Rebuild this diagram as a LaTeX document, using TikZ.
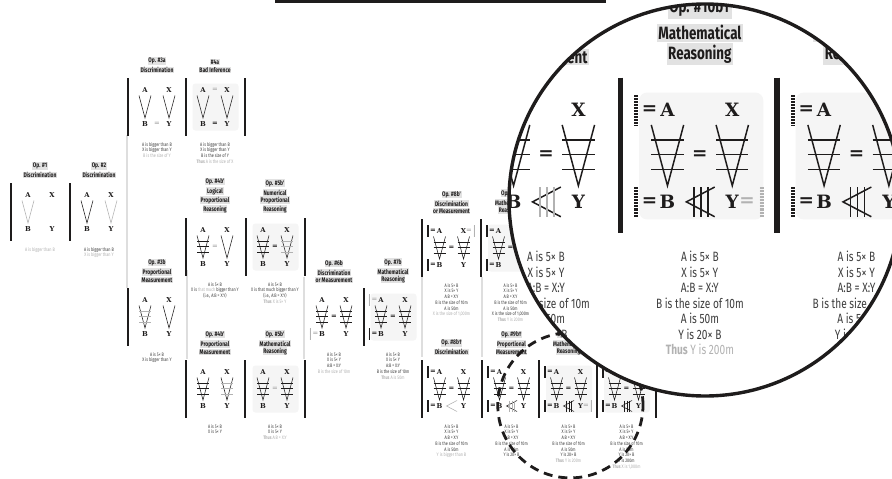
\documentclass[tikz,border=0pt]{standalone}
\usepackage{fontspec}
\usepackage{xcolor}
\usepackage{tikz}
\usetikzlibrary{calc}
\newfontfamily\capfont[FakeStretch=0.75]{Fira Sans}
\newfontfamily\letfont{DejaVu Serif}
\definecolor{mydark}{RGB}{30,28,28}
\definecolor{mytext}{RGB}{62,62,62}
\definecolor{mylight}{RGB}{178,178,178}
\definecolor{titlebg}{RGB}{226,226,226}
\definecolor{panelbg}{RGB}{245,245,245}
\definecolor{sepgray}{RGB}{222,222,222}
\setlength{\fboxsep}{0.6pt}
\newcommand{\lwf}{1}
\newcommand{\hl}[1]{\colorbox{titlebg}{#1}}
\tikzset{
  letter/.style={font=\letfont\bfseries\fontsize{6.8}{6.8}\selectfont, text=mydark, inner sep=0pt},
  optitle/.style={font=\capfont\bfseries\fontsize{6.6}{7.2}\selectfont, text=mydark,
    align=center, anchor=south, inner sep=0pt},
  caption/.style={font=\capfont\fontsize{5}{5.75}\selectfont, text=mytext,
    align=center, anchor=north, inner sep=0pt},
  forkline/.style={line width=\lwf*0.55pt, mydark},
  panelbar/.style={line width=\lwf*2pt, mydark},
  sepline/.style={line width=1.4pt, sepgray},
  panelbox/.style={fill=panelbg, rounded corners=\lwf*3pt},
  toprule/.style={line width=3pt, mydark},
  bigring/.style={line width=3.4pt, mydark},
  dashring/.style={line width=2.8pt, mydark, dash pattern=on 9pt off 6pt}
}
% glyph pieces, local panel units (A at origin)
\newcommand{\abxy}[1]{%
  \node[letter] (a#1) at (0,0) {A};
  \node[letter] (x#1) at (24,0) {X};
  \node[letter] (b#1) at (0,34) {B};
  \node[letter] (y#1) at (24,34) {Y};}
\newcommand{\fork}[2][mydark]{\draw[forkline,#1] (#2-6,5.5) -- (#2,28) -- (#2+6,5.5);}
\newcommand{\rungs}[2][mydark]{\foreach \ry in {11,16.5,22} \draw[forkline,#1] (#2-6,\ry) -- (#2+6,\ry);}
\newcommand{\sidefork}[2][mydark]{\draw[forkline,#1] (#2+10.5,28.5) -- (#2,34) -- (#2+10.5,39.5);}
\newcommand{\siderungs}[2][mydark]{\foreach \rx in {2.8,5.4,8} \draw[forkline,#1] (#2+\rx,28.5) -- (#2+\rx,39.5);}
\newcommand{\hatch}[3][mydark]{\foreach \k in {0,...,20}
  \draw[#1,line width=\lwf*0.24pt] (#2-0.75,#3-5.5+\k*0.55) -- (#2+0.75,#3-5.5+\k*0.55);}
\newcommand{\eqsign}[4][mydark]{\node[letter,text=#1] (#2) at (#3,#4) {=};}
% lower row, drawn twice (plain and magnified)
\newcommand{\bottomrow}{%
  % Op. #8b dagger
  \begin{scope}[shift={(439.5,372)}]
    \draw[panelbar] (-17.5,-12) -- (-17.5,45.5);
    \hatch{-11.5}{0} \hatch{-11.5}{34}
    \eqsign{ea8d}{-6.6}{0} \eqsign{eb8d}{-6.6}{34}
    \abxy{8d}
    \fork{0} \rungs{0} \fork{24} \rungs{24}
    \eqsign{em8d}{12}{16.5}
    \sidefork[mylight]{7}
    \node[optitle] (t8d) at (12,-16.5) {\hl{Op. \#8b†}\\[1pt]\hl{Discrimination}};
    \node[caption] (c8d) at (12,52) {A is 5× B\\X is 5× Y\\A:B = X:Y\\B is the size of 10m\\A is 50m\\{\color{mylight}Y is bigger than B}};
  \end{scope}
  % Op. #9b dagger
  \begin{scope}[shift={(499.5,372)}]
    \draw[panelbar] (-17.5,-12) -- (-17.5,45.5);
    \hatch{-11.5}{0} \hatch{-11.5}{34}
    \eqsign{ea9d}{-6.6}{0} \eqsign{eb9d}{-6.6}{34}
    \abxy{9d}
    \fork{0} \rungs{0} \fork{24} \rungs{24}
    \eqsign{em9d}{12}{16.5}
    \sidefork{7} \siderungs[mylight]{7}
    \node[optitle] (t9d) at (12,-16.5) {\hl{Op. \#9b†}\\[1pt]\hl{Proportional}\\\hl{Measurement}};
    \node[caption] (c9d) at (12,52) {A is 5× B\\X is 5× Y\\A:B = X:Y\\B is the size of 10m\\A is 50m\\Y is 20× B};
  \end{scope}
  % Op. #10b dagger
  \begin{scope}[shift={(556.5,372)}]
    \fill[panelbox] (-10.5,-6.5) rectangle (35.5,40.5);
    \draw[panelbar] (-17.5,-12) -- (-17.5,45.5);
    \hatch{-11.5}{0} \hatch{-11.5}{34} \hatch[mylight]{35}{34}
    \eqsign{ea10d}{-6.6}{0} \eqsign{eb10d}{-6.6}{34} \eqsign[mylight]{ey10d}{29.5}{34}
    \abxy{10d}
    \fork{0} \rungs{0} \fork{24} \rungs{24}
    \eqsign{em10d}{12}{16.5}
    \sidefork{7} \siderungs{7}
    \node[optitle] (t10d) at (12,-16.5) {\hl{Op. \#10b†}\\[1pt]\hl{Mathematical}\\\hl{Reasoning}};
    \node[caption] (c10d) at (12,52) {A is 5× B\\X is 5× Y\\A:B = X:Y\\B is the size of 10m\\A is 50m\\Y is 20× B\\{\color{mylight}\textbf{Thus} Y is 200m}};
  \end{scope}
  % Op. #11b dagger
  \begin{scope}[shift={(614.5,372)}]
    \fill[panelbox] (-10.5,-6.5) rectangle (35.5,40.5);
    \draw[panelbar] (-17.5,-12) -- (-17.5,45.5);
    \draw[panelbar] (41.5,-12) -- (41.5,45.5);
    \hatch{-11.5}{0} \hatch{-11.5}{34} \hatch[mylight]{35}{0}
    \eqsign{ea11d}{-6.6}{0} \eqsign{eb11d}{-6.6}{34} \eqsign[mylight]{ex11d}{29.5}{0}
    \abxy{11d}
    \fork{0} \rungs{0} \fork{24} \rungs{24}
    \eqsign{em11d}{12}{16.5}
    \sidefork{7} \siderungs{7}
    \node[optitle] (t11d) at (12,-16.5) {\hl{Op. \#11b†}\\[1pt]\hl{Mathematical}\\\hl{Reasoning}};
    \node[caption] (c11d) at (12,52) {A is 5× B\\X is 5× Y\\A:B = X:Y\\B is the size of 10m\\A is 50m\\Y is 20× B\\Y is 200m\\{\color{mylight}\textbf{Thus} X is 1,000m}};
  \end{scope}}

\begin{document}
\begin{tikzpicture}[x=1pt,y=-1pt]
  \useasboundingbox (0,0) rectangle (892,479);
  \fill[white] (0,0) rectangle (892,479);
  % Top rule
  \draw[toprule] (275,1.6) -- (606,1.6);
  % Separators
  \draw[sepline] (127,135) -- (127,288);
  \draw[sepline] (187,270) -- (187,359);
  \draw[sepline] (304,277) -- (304,359);
  \draw[sepline] (422,277) -- (422,357);
  \draw[sepline] (482,277) -- (482,357);
  % Op. #1
  \begin{scope}[shift={(28,195)}]
    \draw[panelbar] (-17.5,-12) -- (-17.5,45.5);
    \fork[mylight]{0}
    \abxy{1}
    \node[optitle] (t1) at (12,-16.5) {\hl{Op. \#1}\\[1pt]\hl{Discrimination}};
    \node[caption] (c1) at (12,52) {{\color{mylight}A is bigger than B}};
  \end{scope}
  % Op. #2
  \begin{scope}[shift={(87,195)}]
    \draw[panelbar] (-17.5,-12) -- (-17.5,45.5);
    \fork{0} \fork[mylight]{24}
    \abxy{2}
    \node[optitle] (t2) at (12,-16.5) {\hl{Op. \#2}\\[1pt]\hl{Discrimination}};
    \node[caption] (c2) at (12,52) {A is bigger than B\\{\color{mylight}X is bigger than Y}};
  \end{scope}
  % Op. #3a
  \begin{scope}[shift={(145,90)}]
    \draw[panelbar] (-17.5,-12) -- (-17.5,45.5);
    \fork{0} \fork{24}
    \abxy{3a}
    \eqsign[mylight]{eb3a}{12}{34}
    \node[optitle] (t3a) at (12,-16.5) {\hl{Op. \#3a}\\[1pt]\hl{Discrimination}};
    \node[caption] (c3a) at (12,52) {A is bigger than B\\X is bigger than Y\\{\color{mylight}B is the size of Y}};
  \end{scope}
  % #4a
  \begin{scope}[shift={(203,90)}]
    \fill[panelbox] (-10.5,-6.5) rectangle (35.5,40.5);
    \draw[panelbar] (-17.5,-12) -- (-17.5,45.5);
    \draw[panelbar] (41.5,-12) -- (41.5,45.5);
    \fork{0} \fork{24}
    \abxy{4a}
    \eqsign[mylight]{ea4a}{12}{0} \eqsign{eb4a}{12}{34}
    \node[optitle] (t4a) at (12,-16.5) {\hl{\#4a}\\[1pt]\hl{Bad Inference}};
    \node[caption] (c4a) at (12,52) {A is bigger than B\\X is bigger than Y\\B is the size of Y\\{\color{mylight}\textbf{Thus} A is the size of X}};
  \end{scope}
  % Op. #4b upper
  \begin{scope}[shift={(203,230)}]
    \draw[panelbar] (-17.5,-12) -- (-17.5,45.5);
    \fork{0} \rungs{0} \fork{24}
    \abxy{4bu}
    \eqsign[mylight]{em4bu}{12}{16.5}
    \node[optitle] (t4bu) at (12,-16.5) {\hl{Op. \#4b'}\\[1pt]\hl{Logical}\\\hl{Proportional}\\\hl{Reasoning}};
    \node[caption] (c4bu) at (12,52) {A is 5× B\\X is {\color{mylight}that much} bigger than Y\\(i.e., A:B = X:Y)};
  \end{scope}
  % Op. #5b upper
  \begin{scope}[shift={(263,230)}]
    \fill[panelbox] (-10.5,-6.5) rectangle (35.5,40.5);
    \draw[panelbar] (-17.5,-12) -- (-17.5,45.5);
    \draw[panelbar] (41.5,-12) -- (41.5,45.5);
    \fork{0} \rungs{0} \fork{24} \rungs[mylight]{24}
    \abxy{5bu}
    \eqsign{em5bu}{12}{16.5}
    \node[optitle] (t5bu) at (12,-16.5) {\hl{Op. \#5b'}\\[1pt]\hl{Numerical}\\\hl{Proportional}\\\hl{Reasoning}};
    \node[caption] (c5bu) at (12,52) {A is 5× B\\X is that much bigger than Y\\(i.e., A:B = X:Y)\\{\color{mylight}\textbf{Thus} X is 5× Y}};
  \end{scope}
  % Op. #3b
  \begin{scope}[shift={(145,300)}]
    \draw[panelbar] (-17.5,-12) -- (-17.5,45.5);
    \fork{0} \rungs[mylight]{0} \fork{24}
    \abxy{3b}
    \node[optitle] (t3b) at (12,-16.5) {\hl{Op. \#3b}\\[1pt]\hl{Proportional}\\\hl{Measurement}};
    \node[caption] (c3b) at (12,52) {A is 5× B\\X is bigger than Y};
  \end{scope}
  % Op. #4b lower
  \begin{scope}[shift={(203,372)}]
    \draw[panelbar] (-17.5,-12) -- (-17.5,45.5);
    \draw[panelbar] (41.5,-12) -- (41.5,45.5);
    \fork{0} \rungs{0} \fork{24} \rungs[mylight]{24}
    \abxy{4bl}
    \node[optitle] (t4bl) at (12,-16.5) {\hl{Op. \#4b'}\\[1pt]\hl{Proportional}\\\hl{Measurement}};
    \node[caption] (c4bl) at (12,52) {A is 5× B\\X is 5× Y};
  \end{scope}
  % Op. #5b lower
  \begin{scope}[shift={(263,372)}]
    \fill[panelbox] (-10.5,-6.5) rectangle (35.5,40.5);
    \draw[panelbar] (41.5,-12) -- (41.5,45.5);
    \fork{0} \rungs{0} \fork{24} \rungs{24}
    \abxy{5bl}
    \eqsign[mylight]{em5bl}{12}{16.5}
    \node[optitle] (t5bl) at (12,-16.5) {\hl{Op. \#5b'}\\[1pt]\hl{Mathematical}\\\hl{Reasoning}};
    \node[caption] (c5bl) at (12,52) {A is 5× B\\X is 5× Y\\{\color{mylight}\textbf{Thus} A:B = X:Y}};
  \end{scope}
  % Op. #6b
  \begin{scope}[shift={(322,300)}]
    \fork{0} \rungs{0} \fork{24} \rungs{24}
    \hatch[mylight]{-11.5}{34} \eqsign[mylight]{eb6b}{-6.6}{34}
    \abxy{6b}
    \eqsign{em6b}{12}{16.5}
    \node[optitle] (t6b) at (12,-16.5) {\hl{Op. \#6b}\\[1pt]\hl{Discrimination}\\\hl{or Measurement}};
    \node[caption] (c6b) at (12,52) {A is 5× B\\X is 5× Y\\A:B = X:Y\\{\color{mylight}B is the size of 10m}};
  \end{scope}
  % Op. #7b
  \begin{scope}[shift={(381,300)}]
    \fill[panelbox] (-10.5,-6.5) rectangle (35.5,40.5);
    \draw[panelbar] (-17.5,-12) -- (-17.5,45.5);
    \fork{0} \rungs{0} \fork{24} \rungs{24}
    \hatch[mylight]{-11.5}{0} \eqsign[mylight]{ea7b}{-6.6}{0}
    \hatch{-11.5}{34} \eqsign{eb7b}{-6.6}{34}
    \abxy{7b}
    \eqsign{em7b}{12}{16.5}
    \node[optitle] (t7b) at (12,-16.5) {\hl{Op. \#7b}\\[1pt]\hl{Mathematical}\\\hl{Reasoning}};
    \node[caption] (c7b) at (12,52) {A is 5× B\\X is 5× Y\\A:B = X:Y\\B is the size of 10m\\{\color{mylight}\textbf{Thus} A is 50m}};
  \end{scope}
  % Op. #8b upper
  \begin{scope}[shift={(439.5,231)}]
    \draw[panelbar] (-17.5,-12) -- (-17.5,45.5);
    \fork{0} \rungs{0} \fork{24} \rungs{24}
    \hatch{-11.5}{0} \hatch{-11.5}{34} \hatch[mylight]{35}{0}
    \eqsign{ea8u}{-6.6}{0} \eqsign{eb8u}{-6.6}{34} \eqsign[mylight]{ex8u}{29.5}{0}
    \abxy{8u}
    \eqsign{em8u}{12}{16.5}
    \node[optitle] (t8u) at (12,-16.5) {\hl{Op. \#8b'}\\[1pt]\hl{Discrimination}\\\hl{or Measurement}};
    \node[caption] (c8u) at (12,52) {A is 5× B\\X is 5× Y\\A:B = X:Y\\B is the size of 10m\\A is 50m\\{\color{mylight}X is the size of 1,000m}};
  \end{scope}
  % Op. #9b upper
  \begin{scope}[shift={(498.5,231)}]
    \fill[panelbox] (-10.5,-6.5) rectangle (35.5,40.5);
    \draw[panelbar] (-17.5,-12) -- (-17.5,45.5);
    \fork{0} \rungs{0} \fork{24} \rungs{24}
    \hatch{-11.5}{0} \hatch{-11.5}{34}
    \eqsign{ea9u}{-6.6}{0} \eqsign{eb9u}{-6.6}{34}
    \abxy{9u}
    \eqsign{em9u}{12}{16.5}
    \node[optitle] (t9u) at (12,-16.5) {\hl{Op. \#9b'}\\[1pt]\hl{Mathematical}\\\hl{Reasoning}};
    \node[caption] (c9u) at (12,52) {A is 5× B\\X is 5× Y\\A:B = X:Y\\B is the size of 10m\\A is 50m\\X is the size of 1,000m\\{\color{mylight}\textbf{Thus} Y is 200m}};
  \end{scope}
  % Lower row
  \bottomrow
  % Dashed lens
  \draw[dashring] (570.4,405.3) circle [radius=72.6pt];
  % Magnified view
  \fill[white] (705,200) circle [radius=196pt];
  \begin{scope}
    \clip (705,200) circle [radius=196pt];
    \begin{scope}[shift={(-835.08,-894.31)}, scale=2.7, transform shape]
      \renewcommand{\lwf}{2.7}
      \bottomrow
    \end{scope}
  \end{scope}
  \draw[bigring] (705,200) circle [radius=196pt];
\end{tikzpicture}
\end{document}
